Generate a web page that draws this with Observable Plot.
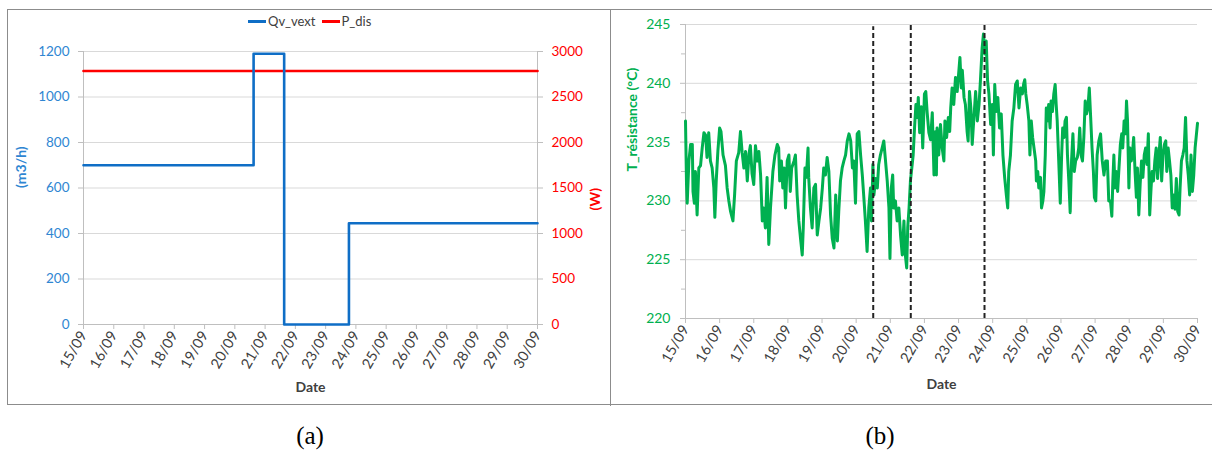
<!DOCTYPE html>
<html><head><meta charset="utf-8">
<script src="https://cdn.jsdelivr.net/npm/d3@7"></script>
<script src="https://cdn.jsdelivr.net/npm/@observablehq/plot@0.6"></script>
<style>
body{margin:0;background:#fff;font-family:Lato,sans-serif}
#page{position:relative;width:1212px;height:453px;overflow:hidden;background:#fff}
#box{position:absolute;left:7px;top:9px;width:1210px;height:396px;border:1px solid #8c8c8c;border-right:none;box-sizing:border-box}
#divider{position:absolute;left:610px;top:9px;height:397px;border-left:1px solid #8c8c8c}
#pa{position:absolute;left:7px;top:9px}
#pb{position:absolute;left:610px;top:9px}
#legend{position:absolute;left:248px;top:13px;display:flex;align-items:center;font:13px Lato,sans-serif;color:#404040}
#legend span.sw{display:inline-block;width:18px;height:3px;margin-right:2px}
#legend span.lab{margin-right:6px}
.cap{position:absolute;top:422px;font:25px "Liberation Serif",serif;color:#000;transform:translateX(-50%)}
</style></head>
<body><div id="page">
<div id="box"></div>
<div id="divider"></div>
<div id="pa"></div>
<div id="pb"></div>
<div id="legend"></div>
<div class="cap" style="left:310px">(a)</div>
<div class="cap" style="left:880px">(b)</div>
</div>
<script>
// ---------- data ----------
const dayLabels = ["15/09","16/09","17/09","18/09","19/09","20/09","21/09","22/09","23/09","24/09","25/09","26/09","27/09","28/09","29/09","30/09"];
const qvTicks = [0, 200, 400, 600, 800, 1000, 1200];
const wPerQv = 2.5; // right axis (W) = left axis (m3/h) * 2.5
const qvDays = [0, 5.62, 6.63, 8.77, 15];
const qvValues = [700, 1190, 0, 445, 445];
const pDays = [0, 15];
const pValues = [2785, 2785];
const seriesNames = ["Qv_vext", "P_dis"];
const tTicks = [220, 225, 230, 235, 240, 245];
const tMinorTicks = [222.5, 227.5, 232.5, 237.5, 242.5];
const eventDays = [5.5, 6.6, 8.76];
const eventTops = [244.8, 245, 245];
const tDays = [0.00,0.03,0.05,0.10,0.15,0.20,0.22,0.26,0.29,0.34,0.39,0.44,0.49,0.54,0.59,0.63,0.68,0.73,0.78,0.83,0.86,0.90,0.95,1.00,1.04,1.10,1.17,1.22,1.27,1.32,1.39,1.44,1.49,1.56,1.61,1.66,1.71,1.76,1.81,1.86,1.90,1.95,2.00,2.05,2.10,2.15,2.20,2.25,2.29,2.34,2.39,2.44,2.49,2.56,2.62,2.69,2.73,2.76,2.81,2.85,2.89,2.93,2.98,3.03,3.07,3.11,3.18,3.22,3.27,3.32,3.37,3.42,3.45,3.50,3.54,3.59,3.61,3.66,3.71,3.76,3.81,3.86,3.91,3.96,4.01,4.05,4.10,4.15,4.20,4.25,4.30,4.35,4.40,4.45,4.49,4.54,4.59,4.64,4.69,4.74,4.79,4.84,4.89,4.93,4.98,5.03,5.08,5.13,5.18,5.22,5.27,5.32,5.37,5.42,5.45,5.49,5.52,5.57,5.62,5.66,5.71,5.76,5.81,5.86,5.91,5.96,5.99,6.03,6.07,6.10,6.15,6.20,6.25,6.30,6.35,6.40,6.43,6.48,6.51,6.55,6.59,6.63,6.67,6.71,6.75,6.79,6.82,6.86,6.91,6.95,7.00,7.04,7.08,7.13,7.18,7.23,7.28,7.33,7.35,7.37,7.42,7.47,7.52,7.57,7.60,7.65,7.70,7.74,7.77,7.81,7.86,7.91,7.96,8.01,8.04,8.08,8.11,8.16,8.20,8.25,8.28,8.32,8.36,8.40,8.45,8.50,8.55,8.60,8.64,8.69,8.73,8.77,8.81,8.85,8.89,8.94,8.99,9.02,9.06,9.10,9.15,9.20,9.25,9.30,9.35,9.40,9.44,9.47,9.52,9.57,9.62,9.67,9.72,9.77,9.82,9.87,9.91,9.94,9.97,10.01,10.06,10.09,10.13,10.17,10.21,10.26,10.28,10.32,10.35,10.40,10.43,10.47,10.50,10.54,10.57,10.60,10.64,10.68,10.71,10.75,10.79,10.83,10.86,10.89,10.92,10.95,10.98,11.02,11.05,11.09,11.12,11.16,11.19,11.23,11.27,11.31,11.35,11.39,11.43,11.48,11.52,11.55,11.59,11.63,11.67,11.71,11.75,11.79,11.83,11.87,11.91,11.95,11.98,12.02,12.06,12.11,12.16,12.21,12.26,12.31,12.36,12.40,12.45,12.49,12.52,12.55,12.58,12.62,12.66,12.70,12.74,12.78,12.81,12.85,12.89,12.92,12.95,12.99,13.02,13.06,13.09,13.13,13.17,13.21,13.24,13.28,13.32,13.36,13.40,13.44,13.48,13.52,13.56,13.60,13.64,13.67,13.71,13.75,13.79,13.83,13.87,13.91,13.95,13.99,14.03,14.07,14.10,14.14,14.18,14.22,14.26,14.30,14.34,14.38,14.42,14.46,14.49,14.53,14.57,14.61,14.65,14.69,14.73,14.77,14.81,14.85,14.89,14.93,14.96,15.00];
const tValues = [236.8,231.4,229.8,233.4,234.8,234.8,230.8,229.8,232.5,228.8,232.8,233.0,234.5,235.8,235.6,233.7,235.8,233.4,232.8,231.1,228.6,231.7,234.3,236.2,235.9,233.9,233.0,231.1,230.0,229.1,228.3,230.6,233.4,234.1,235.9,234.1,232.8,234.2,231.7,234.0,234.7,232.3,231.4,234.7,233.4,234.2,232.2,228.3,229.4,227.7,232.0,226.3,229.4,232.5,233.9,234.8,234.5,231.7,233.4,231.1,232.8,229.4,233.4,233.9,230.8,232.8,233.4,233.9,230.5,228.3,226.8,225.4,227.7,232.8,232.0,234.5,232.0,229.4,227.7,231.1,231.4,227.1,228.3,229.4,231.1,232.8,232.2,233.7,232.5,228.8,226.8,226.0,230.5,226.6,229.1,231.7,232.8,233.4,233.9,235.1,235.7,235.1,232.8,233.4,229.8,235.7,235.9,233.9,232.2,230.5,228.3,225.7,229.4,231.1,228.3,233.1,230.5,231.9,231.1,233.1,233.9,234.5,235.1,233.4,231.7,229.4,225.1,231.1,232.2,229.4,230.0,228.3,229.4,227.1,225.4,228.3,225.7,224.3,227.7,229.4,231.7,232.8,233.9,236.2,238.2,237.1,238.8,235.8,238.0,234.5,239.1,239.3,237.5,235.8,235.2,237.5,232.2,235.9,232.2,236.2,233.9,236.5,234.5,233.4,236.8,235.4,237.1,235.9,237.9,239.6,238.2,240.5,239.3,241.1,242.2,239.6,241.1,238.8,238.2,235.9,235.1,239.3,237.9,234.8,237.1,239.3,236.8,238.2,240.2,243.0,244.2,242.5,243.6,240.2,239.1,236.5,238.2,233.9,239.9,237.6,238.8,236.2,237.4,233.9,232.0,230.5,229.4,232.5,233.9,236.8,237.9,239.9,240.2,237.9,239.6,239.1,240.0,240.3,239.1,238.2,236.8,233.9,236.8,235.4,234.5,233.4,231.7,232.5,231.1,232.0,229.4,230.0,230.8,233.9,237.9,236.8,238.2,236.2,238.5,237.6,239.1,239.9,238.2,236.8,234.5,232.2,229.8,233.9,236.2,235.4,236.8,237.1,233.9,231.7,229.0,233.4,235.7,232.5,233.4,233.7,234.5,236.2,233.9,233.4,235.4,238.5,237.4,237.9,239.6,237.1,234.5,232.5,230.3,230.0,233.9,235.1,235.7,233.4,232.2,233.4,233.4,230.0,230.0,228.7,231.7,233.9,231.1,232.5,230.8,232.8,234.8,235.7,234.5,236.8,235.7,238.5,236.8,231.1,234.5,233.4,233.9,235.4,232.5,230.3,232.8,228.8,231.4,233.4,232.0,233.9,234.5,233.1,235.7,228.8,231.1,232.5,231.7,233.4,234.5,231.9,233.9,235.4,231.7,233.9,234.8,235.1,232.5,234.5,233.4,232.2,229.4,230.5,229.3,231.9,229.1,228.8,231.1,233.4,233.9,234.5,237.1,233.4,232.2,230.5,233.9,230.8,232.2,234.5,235.4,236.6];

// ---------- styles ----------
const BLUE = "#0F6EC6", BLUE_TXT = "#2F86D2", RED = "#FF0000", GREEN = "#00B050";
const GRID = "#D9D9D9", AXIS = "#BFBFBF";
const FONT = "Lato";
const dayIdx = d3.range(dayLabels.length);
const fmtDay = i => dayLabels[i];
const plain = d => String(d);

const qv = qvDays.map((d, i) => ({day: d, v: qvValues[i]}));
const pd = pDays.map((d, i) => ({day: d, v: pValues[i]}));
const temp = tDays.map((d, i) => ({day: d, t: tValues[i]}));
const events = eventDays.map((d, i) => ({day: d, top: eventTops[i]}));

// ---------- panel (a) ----------
const pa = Plot.plot({
  width: 603, height: 397,
  marginLeft: 76, marginRight: 73, marginTop: 42, marginBottom: 82,
  style: {fontFamily: FONT, fontSize: "13px", background: "transparent", overflow: "visible"},
  x: {domain: [0, 15]},
  y: {domain: [0, 1200]},
  marks: [
    Plot.gridY(qvTicks, {stroke: GRID, strokeOpacity: 1, strokeWidth: 1}),
    Plot.axisY(qvTicks, {anchor: "left", tickSize: 5, tickPadding: 9, stroke: AXIS, fill: BLUE_TXT, fontSize: 13.5, label: null, tickFormat: plain}),
    Plot.axisY(qvTicks, {anchor: "right", tickSize: 5, tickPadding: 9, stroke: AXIS, fill: RED, fontSize: 13.5, label: null, tickFormat: d => String(d * wPerQv)}),
    Plot.axisX(dayIdx, {tickSize: 5, tickPadding: 3, tickRotate: -60, stroke: AXIS, fill: "#404040", fontSize: 14.5, label: null, tickFormat: fmtDay}),
    Plot.ruleX([0, 15], {stroke: AXIS}),
    Plot.ruleY([0], {stroke: AXIS}),
    Plot.line(pd, {x: "day", y: d => d.v / wPerQv, stroke: RED, strokeWidth: 2.6}),
    Plot.line(qv, {x: "day", y: "v", curve: "step-after", stroke: BLUE, strokeWidth: 2.6}),
    Plot.text(["(m3/h)"], {text: d => d, frameAnchor: "left", dx: -62, rotate: -90, fill: BLUE_TXT, fontWeight: "bold", fontSize: 14}),
    Plot.text(["(W)"], {text: d => d, frameAnchor: "right", dx: 58, rotate: -90, fill: RED, fontWeight: "bold", fontSize: 14}),
    Plot.text(["Date"], {text: d => d, frameAnchor: "bottom", dy: 67, fill: "#404040", fontWeight: "bold", fontSize: 14})
  ]
});
document.getElementById("pa").append(pa);

// legend
const leg = document.getElementById("legend");
[[seriesNames[0], BLUE], [seriesNames[1], RED]].forEach(([n, c]) => {
  const sw = document.createElement("span"); sw.className = "sw"; sw.style.background = c;
  const lb = document.createElement("span"); lb.className = "lab"; lb.textContent = n;
  leg.append(sw, lb);
});

// ---------- panel (b) ----------
const pb = Plot.plot({
  width: 602, height: 397,
  marginLeft: 75, marginRight: 15, marginTop: 15, marginBottom: 88,
  style: {fontFamily: FONT, fontSize: "13px", background: "transparent", overflow: "visible"},
  x: {domain: [0, 15]},
  y: {domain: [220, 245]},
  marks: [
    Plot.gridY(tTicks, {stroke: GRID, strokeOpacity: 1, strokeWidth: 1}),
    Plot.axisY(tTicks, {anchor: "left", tickSize: 5, tickPadding: 10, stroke: AXIS, fill: GREEN, fontSize: 14, label: null, tickFormat: plain}),
    Plot.axisY(tMinorTicks, {anchor: "left", tickSize: 4, stroke: AXIS, text: null, label: null}),
    Plot.axisX(dayIdx, {tickSize: 5, tickPadding: 3, tickRotate: -60, stroke: AXIS, fill: "#404040", fontSize: 14.5, label: null, tickFormat: fmtDay}),
    Plot.ruleX([0], {stroke: AXIS}),
    Plot.ruleY([220], {stroke: AXIS}),
    Plot.line(temp, {x: "day", y: "t", stroke: GREEN, strokeWidth: 3, strokeLinejoin: "round"}),
    Plot.ruleX(events, {x: "day", y1: 220, y2: "top", stroke: "#222", strokeWidth: 2, strokeDasharray: "5,3"}),
    Plot.text(["T_résistance (°C)"], {text: d => d, frameAnchor: "left", dx: -53, rotate: -90, fill: GREEN, fontWeight: "bold", fontSize: 14}),
    Plot.text(["Date"], {text: d => d, frameAnchor: "bottom", dy: 70, fill: "#404040", fontWeight: "bold", fontSize: 14})
  ]
});
document.getElementById("pb").append(pb);
</script>
</body></html>
